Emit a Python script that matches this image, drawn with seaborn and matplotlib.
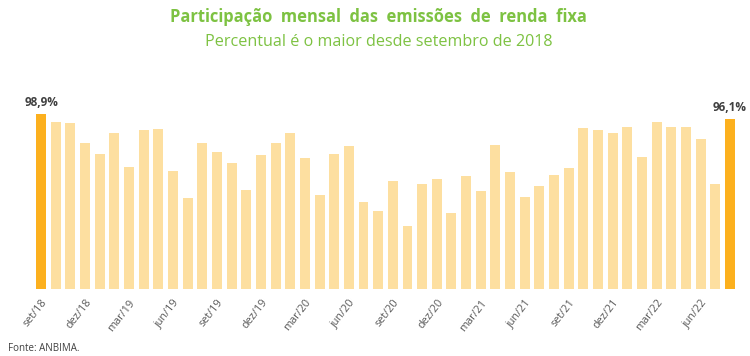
import matplotlib
matplotlib.use("Agg")
import matplotlib.pyplot as plt
import seaborn as sns
import pandas as pd

months = ["set/18", "out/18", "nov/18", "dez/18", "jan/19", "fev/19", "mar/19", "abr/19",
          "mai/19", "jun/19", "jul/19", "ago/19", "set/19", "out/19", "nov/19", "dez/19",
          "jan/20", "fev/20", "mar/20", "abr/20", "mai/20", "jun/20", "jul/20", "ago/20",
          "set/20", "out/20", "nov/20", "dez/20", "jan/21", "fev/21", "mar/21", "abr/21",
          "mai/21", "jun/21", "jul/21", "ago/21", "set/21", "out/21", "nov/21", "dez/21",
          "jan/22", "fev/22", "mar/22", "abr/22", "mai/22", "jun/22", "jul/22", "ago/22"]
values = [98.9, 94.4, 93.8, 82.5, 76.3, 88.2, 69.0, 89.9,
          90.4, 66.7, 51.4, 82.5, 77.4, 71.2, 56.0, 75.7,
          82.5, 88.2, 74.0, 53.1, 76.3, 80.8, 49.2, 44.1,
          61.0, 35.6, 59.3, 62.2, 43.0, 63.9, 55.4, 81.4,
          66.1, 52.0, 58.2, 64.4, 68.4, 91.0, 89.9, 88.2,
          91.6, 74.6, 94.4, 91.6, 91.6, 84.8, 59.3, 96.1]
highlight = ["set/18", "ago/22"]
value_labels = {"set/18": "98,9%", "ago/22": "96,1%"}

light = "#FDDFA0"
strong = "#FCB01E"
green = "#7DC242"

df = pd.DataFrame({"mes": months, "valor": values})
palette = {m: (strong if m in highlight else light) for m in months}

sns.set_theme(style="white")
plt.rcParams["font.family"] = ["Open Sans", "DejaVu Sans"]

fig = plt.figure(figsize=(7.5, 3.56), dpi=100)
ax = fig.add_axes([0.045, 0.1882, 0.938, 0.497])

sns.barplot(data=df, x="mes", y="valor", hue="mes", palette=palette,
            width=0.68, legend=False, ax=ax, saturation=1, linewidth=0)

ax.set_xlim(-0.5, len(months) - 0.5)
ax.set_ylim(0, 100)
ax.set_xlabel("")
ax.set_ylabel("")
ax.set_yticks([])
tick_pos = list(range(0, len(months), 3))
ax.set_xticks(tick_pos)
ax.set_xticklabels([months[i] for i in tick_pos], rotation=52, ha="right",
                   rotation_mode="anchor", fontsize=7.8, color="#595959")
ax.tick_params(axis="x", length=0, pad=6)
for s in ax.spines.values():
    s.set_visible(False)

for i, m in enumerate(months):
    if m in value_labels:
        ax.text(i, values[i] + 3, value_labels[m], ha="center", va="bottom",
                fontsize=8.5, fontweight="bold", color="#404040")

fig.text(0.505, 0.952, "Participação  mensal  das  emissões  de  renda  fixa",
         ha="center", va="center", fontsize=11.9, fontweight="bold", color=green)
fig.text(0.505, 0.882, "Percentual é o maior desde setembro de 2018",
         ha="center", va="center", fontsize=11.6, color=green)
fig.text(0.01, 0.022, "Fonte: ANBIMA.", ha="left", va="center",
         fontsize=7, color="#404040")

fig.savefig("out.png", dpi=100)
